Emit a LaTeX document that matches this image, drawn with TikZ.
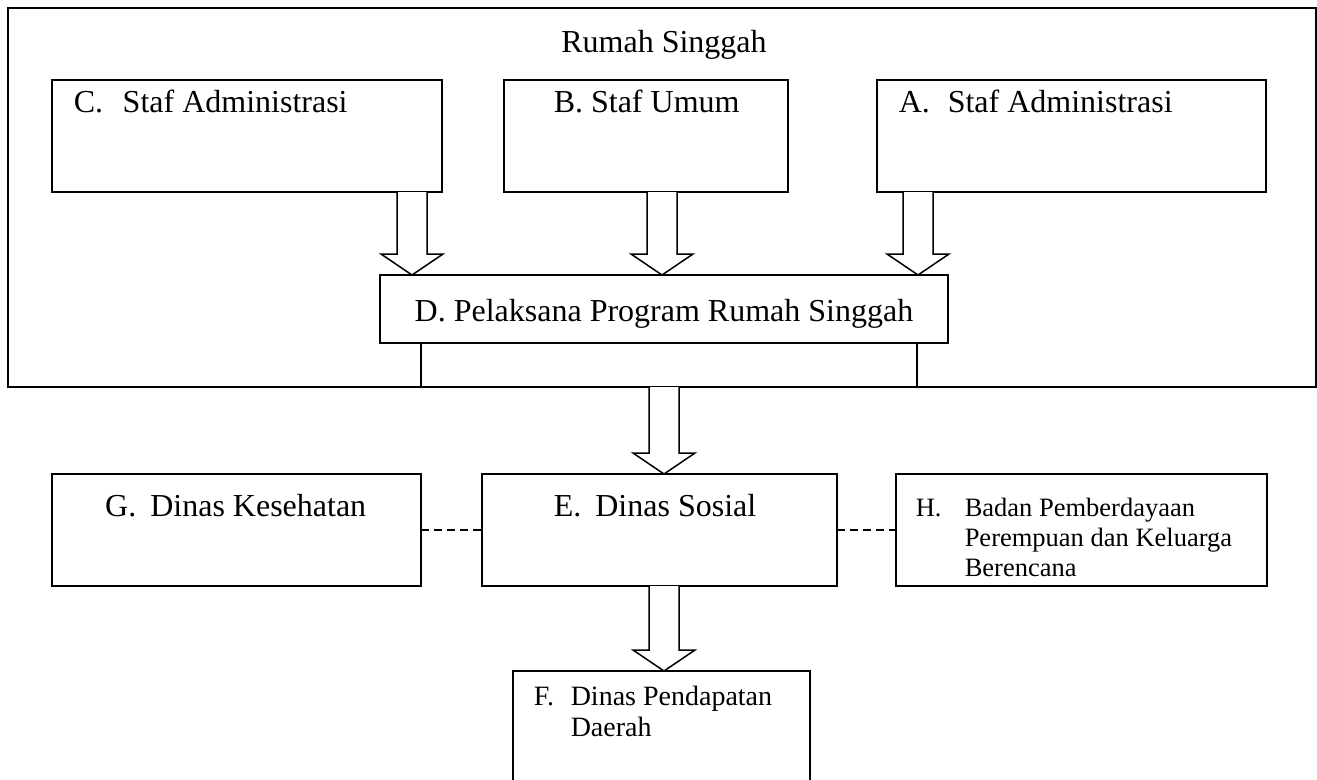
\documentclass[tikz,border=0pt]{standalone}
\usepackage{fontspec}
\setmainfont{Liberation Serif}
\usetikzlibrary{calc}
\newcommand\bigtxt{\fontsize{32}{38}\selectfont}
\newcommand\midtxt{\fontsize{28}{32}\selectfont}
\newcommand\smalltxt{\fontsize{26.5}{30}\selectfont}
\newcommand\hollowarrow[3]{%
  \draw[arr] let \p1=(#2), \p2=(#3) in
   ({(#1-15)*1pt},\y1) -- ({(#1-15)*1pt},{\y2+21pt}) -- ({(#1-31)*1pt},{\y2+21pt})
   -- ({#1*1pt},\y2) -- ({(#1+31)*1pt},{\y2+21pt}) -- ({(#1+15)*1pt},{\y2+21pt})
   -- ({(#1+15)*1pt},\y1);}
\begin{document}
\begin{tikzpicture}[x=1pt,y=-1pt,line width=1.5pt,
  box/.style={draw,line width=1.5pt,inner sep=0pt,outer sep=0pt,anchor=north west},
  lbl/.style={anchor=base west,inner sep=0pt,font=\bigtxt},
  rlbl/.style={anchor=base east,inner sep=0pt,font=\bigtxt},
  slbl/.style={anchor=base west,inner sep=0pt,font=\smalltxt},
  mlbl/.style={anchor=base west,inner sep=0pt,font=\midtxt},
  arr/.style={draw,line width=1.5pt,line join=miter,fill=white},
  conn/.style={draw,line width=1.5pt,dash pattern=on 8pt off 5pt}]
\useasboundingbox (0,0) rectangle (1317,779);
\clip (0,0) rectangle (1317,779);
% boxes
\node[box,minimum width=1308pt,minimum height=379pt] (outer) at (8,8) {};
\node[box,minimum width=390pt,minimum height=112pt] (C) at (52,80) {};
\node[box,minimum width=284pt,minimum height=112pt] (B) at (504,80) {};
\node[box,minimum width=389pt,minimum height=112pt] (A) at (877,80) {};
\node[box,minimum width=568pt,minimum height=68pt] (D) at (380,275) {};
\node[box,minimum width=369pt,minimum height=112pt] (G) at (52,474) {};
\node[box,minimum width=355pt,minimum height=112pt] (E) at (482,474) {};
\node[box,minimum width=371pt,minimum height=112pt] (H) at (896,474) {};
\node[box,minimum width=297pt,minimum height=140pt] (F) at (513,671) {};
% block arrows
\hollowarrow{412}{C.south}{D.north}
\hollowarrow{662}{B.south}{D.north}
\hollowarrow{918}{A.south}{D.north}
\hollowarrow{664}{outer.south}{E.north}
\hollowarrow{664}{E.south}{F.north}
% legs of D
\coordinate (l1) at (421,0);
\coordinate (l2) at (917,0);
\draw (D.south -| l1) -- (outer.south -| l1);
\draw (D.south -| l2) -- (outer.south -| l2);
% dashed links
\draw[conn] (G) -- (E);
\draw[conn] (E) -- (H);
% texts
\node[anchor=base,inner sep=0pt,font=\bigtxt] (tR) at (664,52) {Rumah Singgah};
\node[lbl] (tC) at (73,112) {\makebox[49pt][l]{C.}Staf Administrasi};
\node[lbl] (tB) at (553,112) {B. Staf Umum};
\node[lbl] (tA) at (898,112) {\makebox[49pt][l]{A.}Staf Administrasi};
\node[anchor=base,inner sep=0pt,font=\bigtxt] (tD) at (664,321) {D. Pelaksana Program Rumah Singgah};
\node[rlbl] (tG) at (367,516) {G.\hspace{14pt}Dinas Kesehatan};
\node[rlbl] (tE) at (757,516) {E.\hspace{14pt}Dinas Sosial};
\node[slbl] (tH0) at (915,516) {H.};
\node[slbl] (tH1) at (964,516) {Badan Pemberdayaan};
\node[slbl] (tH2) at (964,546) {Perempuan dan Keluarga};
\node[slbl] (tH3) at (964,576) {Berencana};
\node[mlbl] (tF0) at (533,705) {F.};
\node[mlbl] (tF1) at (570,705) {Dinas Pendapatan};
\node[mlbl] (tF2) at (570,736) {Daerah};
\end{tikzpicture}
\end{document}
